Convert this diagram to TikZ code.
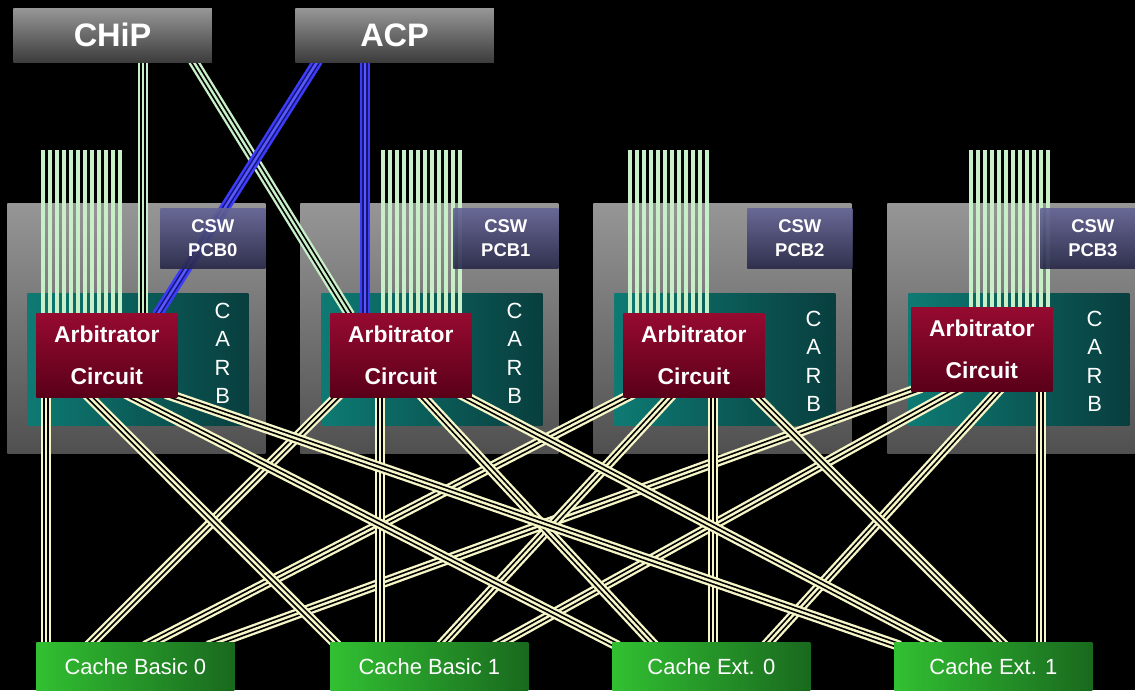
\documentclass[tikz,border=0pt]{standalone}
\usepackage{fontspec}
\setmainfont{Liberation Sans}
\usepackage{xcolor}
\usetikzlibrary{calc}

\definecolor{wirecol}{RGB}{245,245,200}
\definecolor{strandcol}{RGB}{200,240,200}
\definecolor{acpcol}{RGB}{60,60,250}
\definecolor{acpdark}{RGB}{20,20,120}
\definecolor{modtop}{RGB}{150,150,150}
\definecolor{modbot}{RGB}{80,80,80}
\definecolor{carbleft}{RGB}{14,122,115}
\definecolor{carbright}{RGB}{8,62,62}
\definecolor{arbtop}{RGB}{150,10,48}
\definecolor{arbbot}{RGB}{90,0,25}
\definecolor{cswtop}{RGB}{100,100,150}
\definecolor{cswbot}{RGB}{40,40,72}
\definecolor{cacheleft}{RGB}{50,192,50}
\definecolor{cacheright}{RGB}{25,105,30}
\definecolor{hosttop}{RGB}{150,150,150}
\definecolor{hostbot}{RGB}{60,60,60}

\pgfdeclarelayer{back}
\pgfdeclarelayer{wires}
\pgfsetlayers{back,wires,main}

\begin{document}
\begin{tikzpicture}[
        x=0.02cm, y=-0.02cm,
        host/.style={anchor=north west, minimum width=3.97cm, minimum height=1.08cm, top color=hosttop, bottom color=hostbot, text=white, font=\fontsize{18.5}{20}\selectfont\bfseries},
        module/.style={anchor=north west, minimum width=5.16cm, minimum height=5cm, top color=modtop, bottom color=modbot},
        csw/.style={anchor=north west, minimum width=2.1cm, minimum height=1.2cm, top color=cswtop, bottom color=cswbot, fill opacity=0.9, text opacity=1, text=white, align=center, font=\fontsize{10.5}{14}\selectfont\bfseries},
        carb/.style={anchor=north west, minimum width=4.42cm, minimum height=2.64cm, left color=carbleft, right color=carbright},
        carbtext/.style={text=white, align=center, font=\fontsize{12.5}{16}\selectfont},
        arbiter/.style={anchor=north west, minimum width=2.82cm, minimum height=1.68cm, top color=arbtop, bottom color=arbbot, text=white, align=center, font=\fontsize{13}{24}\selectfont\bfseries},
        cache/.style={anchor=north west, minimum width=3.96cm, minimum height=0.96cm, left color=cacheleft, right color=cacheright, text=white, font=\fontsize{12.5}{14}\selectfont},
        strand/.style={draw=strandcol, line width=2.2pt},
        bus/.style={draw=#1, line width=6pt, postaction={draw=black, line width=3.3pt}, postaction={draw=#1, line width=1.4pt}},
        acpbus/.style={draw=acpcol, line width=6pt, postaction={draw=acpdark, line width=3.1pt}, postaction={draw=acpcol!85!white, line width=1.4pt}}
    ]

    \useasboundingbox (0,0) rectangle (1135,690);

    \begin{pgfonlayer}{back}
    \fill[black] (0,0) rectangle (1135,690);

    % -- Cartes (fond gris) --
    \node[module] (mod0) at (7,203)   {};
    \node[module] (mod1) at (300,203) {};
    \node[module] (mod2) at (593,203) {};
    \node[module] (mod3) at (887,203) {};

    % -- CARB --
    \node[carb] (carb0) at (27,293)  {};
    \node[carb] (carb1) at (321,293) {};
    \node[carb] (carb2) at (614,293) {};
    \node[carb] (carb3) at (908,293) {};

    \node[carbtext] (carbl0) at ($(carb0.east)+(-26,-6)$) {C\\A\\R\\B};
    \node[carbtext] (carbl1) at ($(carb1.east)+(-28,-6)$) {C\\A\\R\\B};
    \node[carbtext] (carbl2) at ($(carb2.east)+(-22,2)$)  {C\\A\\R\\B};
    \node[carbtext] (carbl3) at ($(carb3.east)+(-35,2)$)  {C\\A\\R\\B};
    \end{pgfonlayer}

    % -- CSW PCB --
    \node[csw] (csw0) at (160,208)  {CSW\\PCB0};
    \node[csw] (csw1) at (453,208)  {CSW\\PCB1};
    \node[csw] (csw2) at (747,208)  {CSW\\PCB2};
    \node[csw] (csw3) at (1040,208) {CSW\\PCB3};

    % -- Arbitres --
    \node[arbiter] (arb0) at (36,313)  {Arbitrator\\Circuit};
    \node[arbiter] (arb1) at (330,313) {Arbitrator\\Circuit};
    \node[arbiter] (arb2) at (623,313) {Arbitrator\\Circuit};
    \node[arbiter] (arb3) at (911,307) {Arbitrator\\Circuit};

    % -- Caches --
    \node[cache] (cache0) at (36,642)  {Cache Basic 0};
    \node[cache] (cache1) at (330,642) {Cache Basic 1};
    \node[cache] (cache2) at (612,642) {Cache Ext. 0};
    \node[cache] (cache3) at (894,642) {Cache Ext. 1};

    % -- CHiP et ACP --
    \node[host] (chip) at (13,8)  {CHiP};
    \node[host] (acp)  at (295,8) {ACP};

    \begin{pgfonlayer}{wires}
    % -- Bus au-dessus des arbitres --
    \foreach \a/\s in {arb0/43, arb1/383, arb2/630, arb3/971} {
        \foreach \k in {0,...,11} {
            \coordinate (top) at (\s+7*\k,150);
            \draw[strand] (top) -- (top |- \a.north);
        }
    }

    % -- Arbitres -> caches --
    \foreach \i/\j/\e in {0/0/10, 1/0/52, 2/0/109, 3/0/172,
                          0/1/8,  1/1/50, 2/1/110, 3/1/165,
                          0/2/6,  1/2/43, 2/2/101, 3/2/153,
                          0/3/6,  1/3/46, 2/3/111, 3/3/147} {
        \draw[bus=wirecol] ($(arb\i.south west)+(10+40*\j,-4)$)
            -- ($(cache\j.north west)+(\e,4)$);
    }

    % -- CHiP -> arbitres --
    \draw[bus=strandcol] ($(chip.south west)+(130,-2)$) -- ($(arb0.north west)+(107,2)$);
    \draw[bus=strandcol] ($(chip.south west)+(180,-2)$) -- ($(arb1.north west)+(20,2)$);

    % -- ACP -> arbitres --
    \draw[acpbus] ($(acp.south west)+(70,-2)$) -- ($(arb1.north west)+(35,2)$);
    \draw[acpbus] ($(acp.south west)+(23,-2)$) -- ($(arb0.north west)+(121,2)$);
    \end{pgfonlayer}

\end{tikzpicture}
\end{document}
